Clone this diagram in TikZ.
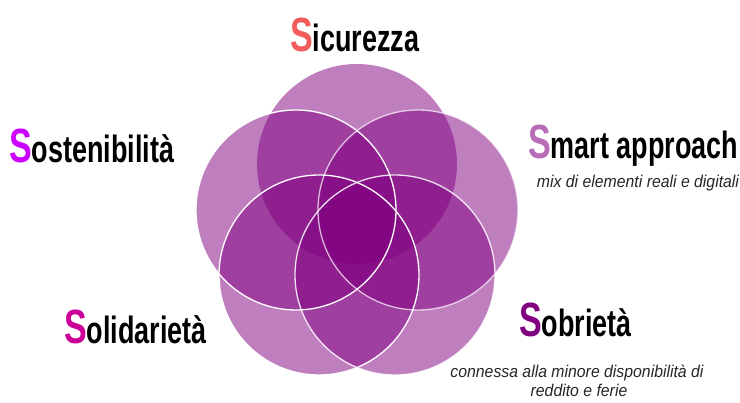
\documentclass[tikz,border=0pt]{standalone}
\usepackage{fontspec}
\setmainfont{Liberation Sans}
\newfontfamily\narrowfont[FakeStretch=0.71]{Liberation Sans}
\newfontfamily\notefont[FakeStretch=0.93]{Liberation Sans}
\definecolor{petalpurple}{RGB}{128,0,128}
\definecolor{sicS}{RGB}{242,92,92}
\definecolor{smaS}{RGB}{184,108,184}
\definecolor{sosS}{RGB}{204,0,255}
\definecolor{solS}{RGB}{204,0,153}
\definecolor{sobS}{RGB}{128,0,128}
\newcommand{\bigS}[1]{{\fontsize{48}{48}\selectfont\color{#1}S}}

\begin{document}
\begin{tikzpicture}[x=1pt,y=-1pt]
\tikzstyle{every node}+=[inner sep=0pt]
\tikzstyle{petal}=[fill=petalpurple,fill opacity=0.5]
\tikzstyle{rim}=[white,line width=1.3pt]
\tikzstyle{title}=[anchor=base west,font=\narrowfont\bfseries\fontsize{38}{38}\selectfont]
\tikzstyle{note}=[anchor=base,text=black!85,font=\notefont\itshape\fontsize{17}{17}\selectfont]
\useasboundingbox (0,0) rectangle (740,403);
\fill [petal] (357,164) circle (100pt);
\fill [petal] (418,210) circle (100pt);
\fill [petal] (296,210) circle (100pt);
\fill [petal] (395,275) circle (100pt);
\fill [petal] (319,275) circle (100pt);
\draw [rim,opacity=0.7] (418,210) circle (100pt);
\draw [rim] (296,210) circle (100pt);
\draw [rim,opacity=0.85] (395,275) circle (100pt);
\draw [rim] (319,275) circle (100pt);
\node [title] (sic) at (290,52) {\bigS{sicS}icurezza};
\node [title] (sos) at (9,163) {\bigS{sosS}ostenibilità};
\node [title] (sma) at (528,159) {\bigS{smaS}mart approach};
\node [title] (sol) at (64,344) {\bigS{solS}olidarietà};
\node [title] (sob) at (519,337) {\bigS{sobS}obrietà};
\node [note] (mix) at (638,188) {mix di elementi reali e digitali};
\node [note] (con) at (577,378) {connessa alla minore disponibilità di};
\node [note] (red) at (579,397) {reddito e ferie};
\end{tikzpicture}
\end{document}
